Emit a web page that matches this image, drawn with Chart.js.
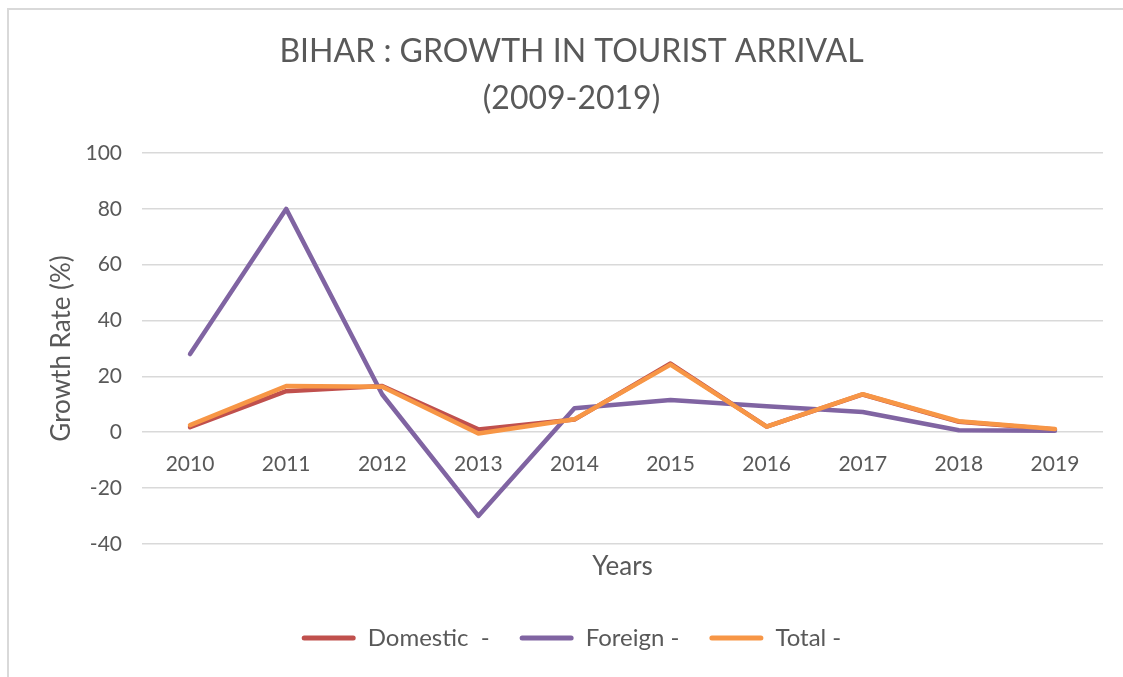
<!DOCTYPE html>
<html>
<head>
<meta charset="utf-8">
<script src="https://cdn.jsdelivr.net/npm/chart.js@4/dist/chart.umd.min.js"></script>
<style>
  html, body { margin: 0; padding: 0; background: #ffffff; }
  #wrap { position: relative; width: 1123px; height: 677px; overflow: hidden; }
  #frame { position: absolute; left: 7px; top: 8px; width: 1200px; height: 800px;
           border-left: 2px solid #d9d9d9; border-top: 2px solid #d9d9d9; pointer-events: none; }
  canvas { position: absolute; left: 0; top: 0; }
</style>
</head>
<body>
<div id="wrap">
  <div id="frame"></div>
  <canvas id="c" width="1123" height="677"></canvas>
</div>
<script>
const years = ['2010', '2011', '2012', '2013', '2014', '2015', '2016', '2017', '2018', '2019'];
const domestic = [1.8, 14.7, 16.5, 1.0, 4.5, 24.6, 2.0, 13.5, 3.7, 1.0];
const foreign = [28, 80, 13.5, -30, 8.6, 11.5, 9.3, 7.2, 0.7, 0.5];
const total = [2.5, 16.5, 16.3, -0.5, 4.6, 24.2, 2.0, 13.6, 3.9, 1.1];
const yMin = -40, yMax = 100, yStep = 20;

const FONT = 'Lato, "Open Sans", sans-serif';
const GREY = '#595959';

function line(label, data, color, order) {
  return {
    label, data, order,
    borderColor: color, backgroundColor: color,
    borderWidth: 4.5, pointRadius: 0, pointHoverRadius: 0,
    tension: 0, borderCapStyle: 'round', borderJoinStyle: 'round', fill: false
  };
}

new Chart(document.getElementById('c'), {
  type: 'line',
  data: {
    labels: years,
    datasets: [
      line('Domestic  -', domestic, '#C0504D', 3),
      line('Foreign -', foreign, '#8064A2', 2),
      line('Total -', total, '#F79646', 1)
    ]
  },
  options: {
    responsive: false,
    animation: false,
    devicePixelRatio: 1,
    layout: { padding: { left: 20, right: 0, top: 0, bottom: 17 } },
    plugins: {
      tooltip: { enabled: false },
      title: {
        display: true,
        text: ['BIHAR : GROWTH IN TOURIST ARRIVAL', '(2009-2019)'],
        color: GREY,
        font: { family: FONT, size: 32, weight: 'normal', lineHeight: 1.47 },
        padding: { top: 28, bottom: 31 }
      },
      legend: {
        position: 'bottom',
        labels: {
          color: GREY,
          font: { family: FONT, size: 24 },
          boxWidth: 54, boxHeight: 5,
          useBorderRadius: true, borderRadius: 2.5,
          padding: 30,
          sort: (a, b) => a.datasetIndex - b.datasetIndex,
          generateLabels(chart) {
            const items = Chart.defaults.plugins.legend.labels.generateLabels(chart);
            items.forEach(it => { it.lineWidth = 0; });
            return items;
          }
        }
      }
    },
    scales: {
      x: {
        type: 'category',
        position: { y: 0 },
        offset: true,
        grid: { display: false, drawTicks: false },
        border: { display: false },
        ticks: { color: GREY, font: { family: FONT, size: 21 }, padding: 19, maxRotation: 0 }
      },
      x2: {
        type: 'category',
        position: 'bottom',
        labels: years,
        offset: true,
        grid: { display: false, drawTicks: false },
        border: { display: false },
        ticks: { display: false },
        title: {
          display: true, text: 'Years', color: GREY,
          font: { family: FONT, size: 26 },
          padding: { top: 7, bottom: 14 }
        }
      },
      y: {
        min: yMin, max: yMax,
        ticks: { stepSize: yStep, color: GREY, font: { family: FONT, size: 21 }, padding: 20 },
        grid: { color: '#d9d9d9', lineWidth: 1.5, drawTicks: false },
        border: { display: false },
        title: {
          display: true, text: 'Growth Rate (%)', color: GREY,
          font: { family: FONT, size: 26 },
          padding: { top: 26, bottom: 0 }
        },
        afterFit(scale) { scale.width = 122; }
      },
      yRight: {
        type: 'linear',
        position: 'right',
        min: 0, max: 1,
        grid: { display: false, drawTicks: false },
        border: { display: false },
        ticks: { display: false },
        afterFit(scale) { scale.width = 20; }
      }
    }
  }
});
</script>
</body>
</html>
